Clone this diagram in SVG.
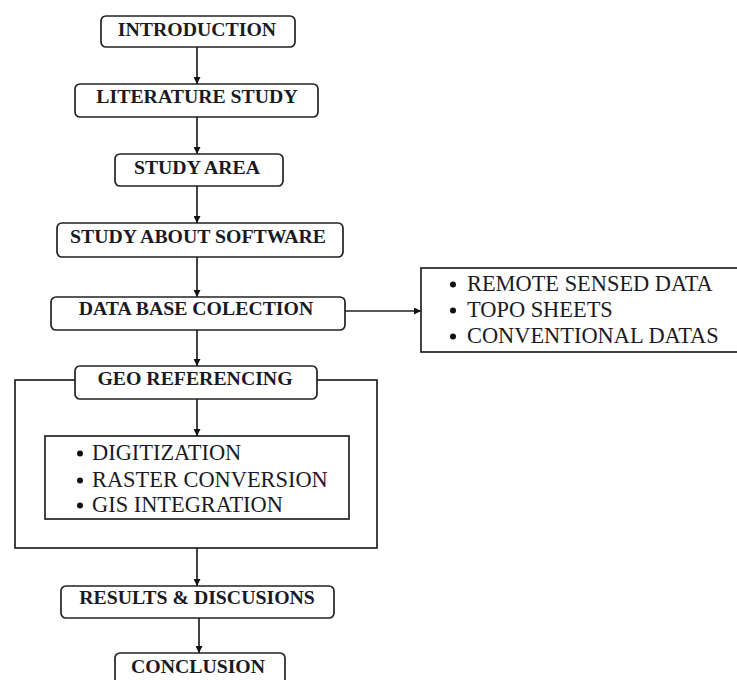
<svg xmlns="http://www.w3.org/2000/svg" width="737" height="680" viewBox="0 0 737 680">
<style>
.box{fill:#fff;stroke:#222;stroke-width:1.7}
.lbl{font-family:"Liberation Serif","Times New Roman",serif;font-weight:bold;font-size:19.8px;fill:#1a1a24;text-anchor:middle}
.item{font-family:"Liberation Serif","Times New Roman",serif;font-size:22.4px;fill:#1a1a24}
.bul{fill:#111}
.con{fill:none;stroke:#222;stroke-width:1.7}
</style>
<defs>
<marker id="ah" viewBox="0 0 10 10" refX="10" refY="5" markerWidth="8" markerHeight="7" markerUnits="userSpaceOnUse" orient="auto">
<path d="M0,0 L10,5 L0,10 z" fill="#111"/>
</marker>
</defs>
<rect width="737" height="680" fill="#fff"/>
<g id="outer-frame">
<rect class="box" x="15" y="380" width="362" height="168"/>
</g>
<g id="connectors">
<line class="con" x1="197" y1="47" x2="197" y2="84" marker-end="url(#ah)"/>
<line class="con" x1="197" y1="117" x2="197" y2="154" marker-end="url(#ah)"/>
<line class="con" x1="197" y1="186" x2="197" y2="223" marker-end="url(#ah)"/>
<line class="con" x1="197" y1="257" x2="197" y2="297" marker-end="url(#ah)"/>
<line class="con" x1="197" y1="330" x2="197" y2="366" marker-end="url(#ah)"/>
<line class="con" x1="197" y1="399" x2="197" y2="436" marker-end="url(#ah)"/>
<line class="con" x1="197" y1="548" x2="197" y2="586" marker-end="url(#ah)"/>
<line class="con" x1="199" y1="618" x2="199" y2="653" marker-end="url(#ah)"/>
<line class="con" x1="345" y1="311" x2="421" y2="311" marker-end="url(#ah)"/>
</g>
<g id="introduction">
<rect class="box" x="101" y="16" width="194" height="31" rx="5"/>
<text class="lbl" x="197" y="36">INTRODUCTION</text>
</g>
<g id="literature-study">
<rect class="box" x="75" y="84" width="243" height="33" rx="5"/>
<text class="lbl" x="197" y="102.5">LITERATURE STUDY</text>
</g>
<g id="study-area">
<rect class="box" x="115" y="154" width="168" height="32" rx="5"/>
<text class="lbl" x="197" y="174">STUDY AREA</text>
</g>
<g id="study-software">
<rect class="box" x="57" y="223" width="286" height="34" rx="5"/>
<text class="lbl" x="198" y="243">STUDY ABOUT SOFTWARE</text>
</g>
<g id="database-collection">
<rect class="box" x="51" y="297" width="294" height="33" rx="5"/>
<text class="lbl" x="196" y="315">DATA BASE COLECTION</text>
</g>
<g id="data-sources">
<rect class="box" x="421" y="268" width="318" height="84"/>
<circle class="bul" cx="453" cy="284.5" r="3"/>
<text class="item" x="467" y="291">REMOTE SENSED DATA</text>
<circle class="bul" cx="453" cy="310.5" r="3"/>
<text class="item" x="467" y="317">TOPO SHEETS</text>
<circle class="bul" cx="453" cy="336.5" r="3"/>
<text class="item" x="467" y="343">CONVENTIONAL DATAS</text>
</g>
<g id="geo-referencing">
<rect class="box" x="75" y="366" width="242" height="33" rx="5"/>
<text class="lbl" x="195" y="385">GEO REFERENCING</text>
</g>
<g id="processing">
<rect class="box" x="45" y="436" width="304" height="83"/>
<circle class="bul" cx="80" cy="453.5" r="3"/>
<text class="item" x="92" y="460">DIGITIZATION</text>
<circle class="bul" cx="80" cy="480.5" r="3"/>
<text class="item" x="92" y="487">RASTER CONVERSION</text>
<circle class="bul" cx="80" cy="505.5" r="3"/>
<text class="item" x="92" y="512">GIS INTEGRATION</text>
</g>
<g id="results">
<rect class="box" x="61" y="586" width="273" height="32" rx="5"/>
<text class="lbl" x="197" y="604">RESULTS &amp; DISCUSIONS</text>
</g>
<g id="conclusion">
<rect class="box" x="115" y="653" width="170" height="34" rx="5"/>
<text class="lbl" x="198" y="673">CONCLUSION</text>
</g>
</svg>
